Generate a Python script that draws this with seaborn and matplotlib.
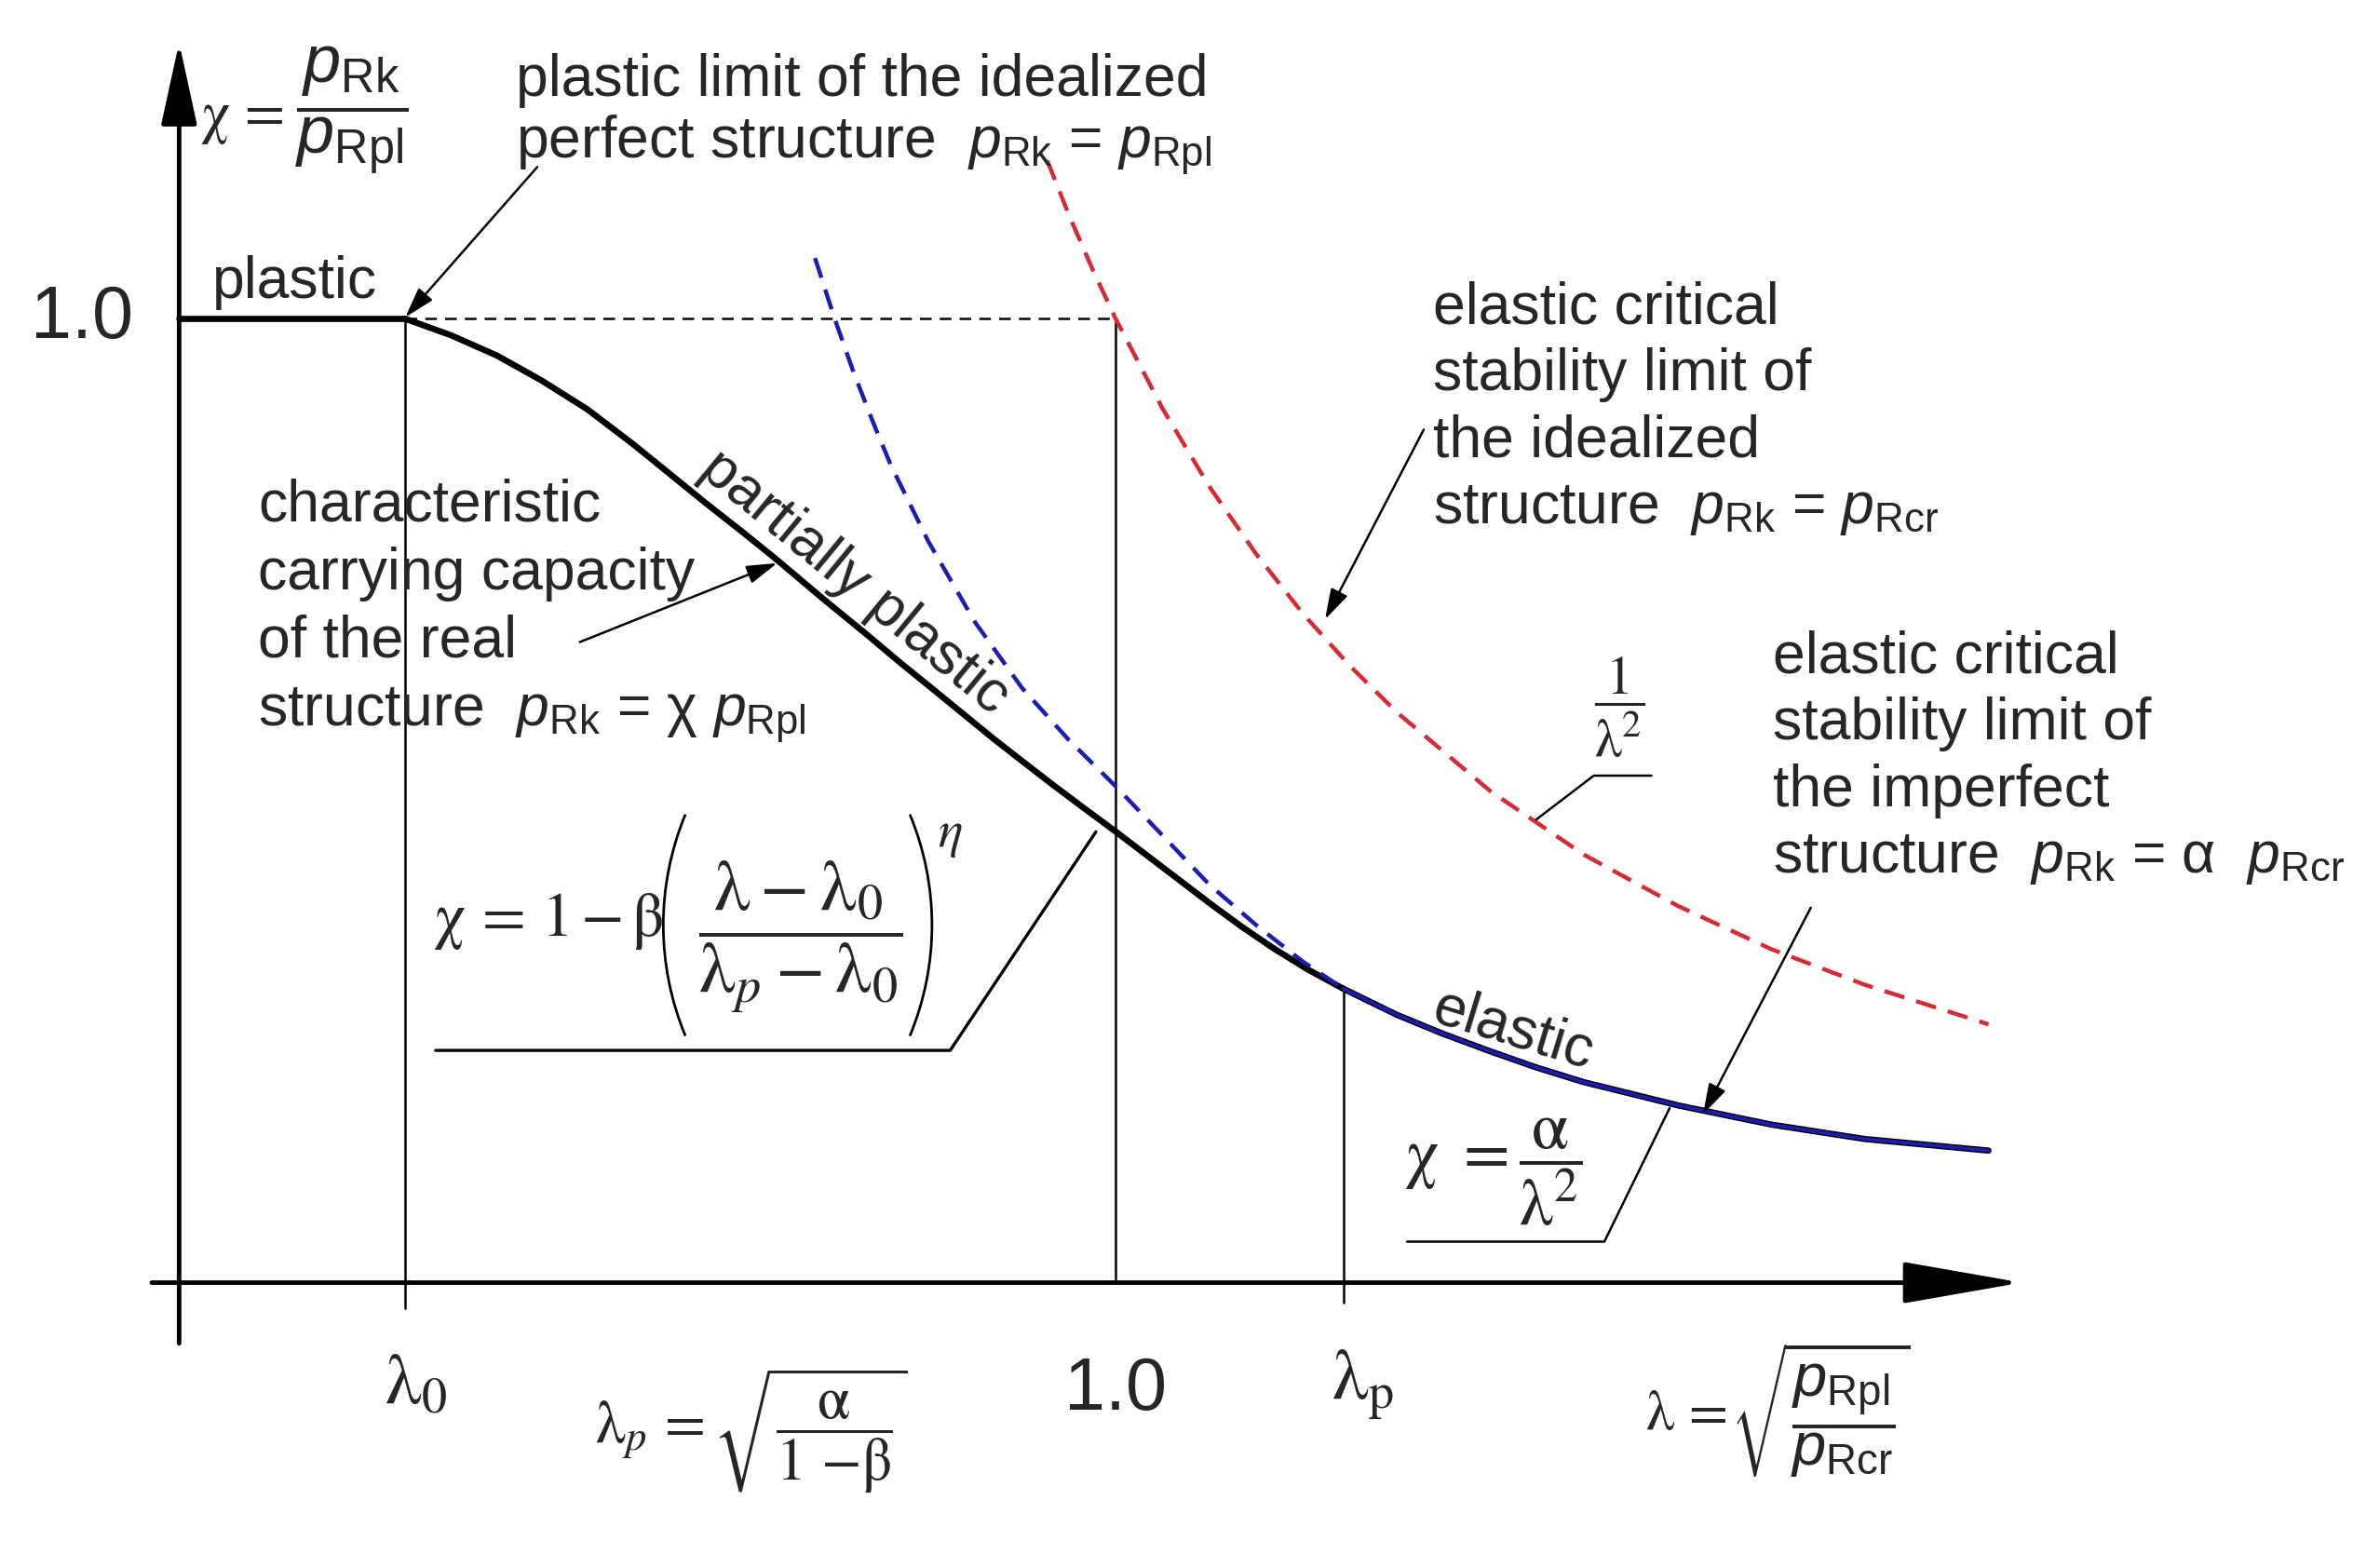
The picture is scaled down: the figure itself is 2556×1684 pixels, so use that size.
import numpy as np
import seaborn as sns
import matplotlib.pyplot as plt
from matplotlib.patches import Arc

# ---- values (lambda = slenderness, chi = reduction factor)
lam0 = 0.2415
lam_one = 1.0
lamp = 1.243

lam_plastic = [0.0, 0.2415]
chi_plastic = [1.0, 1.0]

lam_partial = [0.2415, 0.290, 0.339, 0.387, 0.436, 0.486, 0.524, 0.562, 0.600, 0.637, 0.687, 0.736,
               0.769, 0.802, 0.836, 0.870, 0.903, 0.935, 0.968, 1.0, 1.050, 1.100, 1.135, 1.170,
               1.205, 1.243]
chi_partial = [1.0, 0.983, 0.962, 0.936, 0.906, 0.869, 0.839, 0.809, 0.780, 0.751, 0.710, 0.671,
               0.644, 0.618, 0.591, 0.564, 0.539, 0.515, 0.491, 0.468, 0.431, 0.394, 0.369, 0.346,
               0.325, 0.305]

lam_elastic = [1.243, 1.30, 1.35, 1.40, 1.45, 1.50, 1.60, 1.70, 1.80, 1.932]
chi_elastic = [0.305, 0.278, 0.258, 0.240, 0.223, 0.208, 0.184, 0.164, 0.149, 0.137]

lam_alpha = [0.679, 0.70, 0.72, 0.74, 0.76, 0.80, 0.85, 0.90, 0.95, 1.0, 1.05, 1.10, 1.15, 1.20, 1.243]
chi_alpha = [1.063, 1.0, 0.945, 0.895, 0.848, 0.769, 0.685, 0.617, 0.563, 0.515, 0.464, 0.413,
             0.371, 0.333, 0.305]

lam_euler = [0.927, 0.95, 0.975, 1.0, 1.05, 1.1, 1.15, 1.2, 1.25, 1.3, 1.4, 1.5, 1.6, 1.7, 1.8, 1.932]
chi_euler = [1.164, 1.108, 1.052, 1.0, 0.907, 0.826, 0.756, 0.694, 0.640, 0.592, 0.510, 0.444,
             0.391, 0.346, 0.309, 0.268]

RED = "#d62a35"
BLUE = "#1c1cb0"

sns.set_style("white")
plt.rcParams["font.family"] = ["Liberation Sans", "DejaVu Sans"]
plt.rcParams["mathtext.fontset"] = "custom"
plt.rcParams["mathtext.rm"] = "Liberation Sans"
plt.rcParams["mathtext.it"] = "Liberation Sans:italic"
plt.rcParams["mathtext.sf"] = "Liberation Sans"


def px(sx, sy):
    # reference picture position (1568 px wide view) -> data coords
    return (sx - 118) / 617, (845 - sy) / 635


def pxs(pts):
    xs, ys = zip(*[px(a, b) for a, b in pts])
    return list(xs), list(ys)


fig = plt.figure(figsize=(25.56, 16.84), dpi=100)
ax = fig.add_axes([0, 0, 1, 1])
x0, y1 = px(0, 0)
x1, y0 = px(1568, 1033)
ax.set_xlim(x0, x1)
ax.set_ylim(y0, y1)
ax.axis("off")

# ---- axes with arrows
ax.annotate("", xy=px(118, 28), xytext=px(118, 885),
            arrowprops=dict(arrowstyle="-|>,head_length=5.5,head_width=1.2", lw=3.5, color="k",
                            mutation_scale=10, shrinkA=0, shrinkB=0))
ax.annotate("", xy=px(1332, 845), xytext=px(100, 845),
            arrowprops=dict(arrowstyle="-|>,head_length=8,head_width=1.4", lw=3.5, color="k",
                            mutation_scale=10, shrinkA=0, shrinkB=0))

# ---- reference lines
thin = 1.8
ax.plot([lam0, lam0], [1.0, px(0, 862)[1]], color="k", lw=thin)
ax.plot([lam_one, lam_one], [1.0, 0.0], color="k", lw=thin)
ax.plot([lamp, lamp], [chi_elastic[0], px(0, 858)[1]], color="k", lw=thin)
ax.plot([lam0, lam_one], [1.0, 1.0], color="k", lw=thin, linestyle=(0, (5, 3.5)))

# ---- curves
sns.lineplot(x=lam_euler, y=chi_euler, ax=ax, color=RED, linewidth=3.2,
             linestyle=(0, (5, 3)), sort=False, estimator=None)
sns.lineplot(x=lam_plastic, y=chi_plastic, ax=ax, color="k", linewidth=4.8, sort=False, estimator=None)
sns.lineplot(x=lam_partial, y=chi_partial, ax=ax, color="k", linewidth=4.8, sort=False, estimator=None)
sns.lineplot(x=lam_elastic, y=chi_elastic, ax=ax, color="k", linewidth=4.8, sort=False, estimator=None)
sns.lineplot(x=lam_alpha, y=chi_alpha, ax=ax, color=BLUE, linewidth=3.2,
             linestyle=(0, (5, 3)), sort=False, estimator=None)
sns.lineplot(x=lam_elastic, y=chi_elastic, ax=ax, color=BLUE, linewidth=2.8, sort=False, estimator=None)

fs = 45

# ---- y axis label
ax.text(*px(132, 78), r"$\mathrm{\chi}\,{=}$", math_fontfamily="stix", fontsize=45, ha="left", va="center")
ax.text(*px(232, 73), r"$\dfrac{p_{\mathrm{Rk}}}{p_{\mathrm{Rpl}}}$", fontsize=52, ha="center", va="center")
ax.text(*px(54, 210), "1.0", fontsize=57, ha="center", va="center")

# ---- texts
ax.text(*px(140, 196), "plastic", fontsize=fs, ha="left", va="baseline")
ax.text(*px(340, 63), "plastic limit of the idealized", fontsize=fs, ha="left", va="baseline")
ax.text(*px(340, 104), r"perfect structure  $p_{\mathrm{Rk}}$ = $p_{\mathrm{Rpl}}$",
        fontsize=fs, ha="left", va="baseline")

for i, line in enumerate(["characteristic", "carrying capacity", "of the real",
                          r"structure  $p_{\mathrm{Rk}}$ = χ $p_{\mathrm{Rpl}}$"]):
    ax.text(*px(170, 343 + 45 * i), line, fontsize=fs, ha="left", va="baseline")

for i, line in enumerate(["elastic critical", "stability limit of", "the idealized",
                          r"structure  $p_{\mathrm{Rk}}$ = $p_{\mathrm{Rcr}}$"]):
    ax.text(*px(944, 213 + 44 * i), line, fontsize=fs, ha="left", va="baseline")

for i, line in enumerate(["elastic critical", "stability limit of", "the imperfect",
                          r"structure  $p_{\mathrm{Rk}}$ = α  $p_{\mathrm{Rcr}}$"]):
    ax.text(*px(1168, 443 + 44 * i), line, fontsize=fs, ha="left", va="baseline")

ax.text(*px(563, 384), "partially plastic", fontsize=fs, ha="center", va="center",
        rotation=-39.5, rotation_mode="anchor")
ax.text(*px(997, 679), "elastic", fontsize=fs, ha="center", va="center",
        rotation=-17, rotation_mode="anchor")

# ---- formula for the partially plastic range (pieces + thin arc brackets)
ax.text(*px(285, 607), r"$\mathrm{\chi}\,{=}\,1\,{-}\,\mathrm{\beta}$",
        math_fontfamily="stix", fontsize=49, ha="left", va="center")
ax.text(*px(527, 617), r"$\dfrac{\mathrm{\lambda}-\mathrm{\lambda}_0}{\mathrm{\lambda}_p-\mathrm{\lambda}_0}$",
        math_fontfamily="stix", fontsize=56, ha="center", va="center")
ax.text(*px(626, 550), r"$\eta$", math_fontfamily="stix", fontsize=40, ha="center", va="center")
R = 190
for cx, t1, t2 in [(437 + R, 158, 202), (614 - R, -22, 22)]:
    c = px(cx, 609.5)
    ax.add_patch(Arc(c, 2 * R / 617, 2 * R / 635, theta1=t1, theta2=t2, color="k", lw=2.0))

ax.text(*px(925, 772), r"$\mathrm{\chi}\ =\dfrac{\mathrm{\alpha}}{\mathrm{\lambda}^2}$",
        math_fontfamily="stix", fontsize=52, ha="left", va="center")
ax.text(*px(1067, 466), r"$\dfrac{1}{\mathrm{\lambda}^2}$",
        math_fontfamily="stix", fontsize=42, ha="center", va="center")
ax.text(*px(392, 943), r"$\mathrm{\lambda}_p\,{=}\sqrt{\dfrac{\mathrm{\alpha}}{\mathit{1}\ {-}\mathrm{\beta}}}$",
        math_fontfamily="stix", fontsize=46, ha="left", va="center")
ax.text(*px(1084, 932), r"$\mathrm{\lambda}\,{=}$", math_fontfamily="stix", fontsize=44, ha="left", va="center")
ax.text(*px(1140, 929), r"$\sqrt{\dfrac{p_{\mathrm{Rpl}}}{p_{\mathrm{Rcr}}}}$", fontsize=47,
        ha="left", va="center")

# ---- axis tick labels
ax.text(*px(274, 912), r"$\mathrm{\lambda}_0$", math_fontfamily="stix", fontsize=56, ha="center", va="center")
ax.text(*px(735, 916), "1.0", fontsize=57, ha="center", va="center")
ax.text(*px(898, 912), r"$\mathrm{\lambda}_\mathrm{p}$", math_fontfamily="stix", fontsize=56,
        ha="center", va="center")

# ---- leader lines
arrow_kw = dict(arrowstyle="-|>,head_length=1.0,head_width=0.3", lw=1.8, color="k",
                mutation_scale=20, shrinkA=0, shrinkB=0)
ax.annotate("", xy=px(267, 209), xytext=px(354, 110), arrowprops=arrow_kw)
ax.annotate("", xy=px(512, 371), xytext=px(382, 423), arrowprops=arrow_kw)
ax.annotate("", xy=px(873, 408), xytext=px(938, 283), arrowprops=arrow_kw)
ax.annotate("", xy=px(1122, 734), xytext=px(1193, 598), arrowprops=arrow_kw)

ax.plot(*pxs([(1012, 540), (1050, 511), (1088, 511)]), color="k", lw=thin)
ax.plot(*pxs([(287, 692), (626, 692), (722, 548)]), color="k", lw=2.4)
ax.plot(*pxs([(927, 818), (1057, 818), (1100, 730)]), color="k", lw=thin)

fig.savefig("out.png", dpi=100)
